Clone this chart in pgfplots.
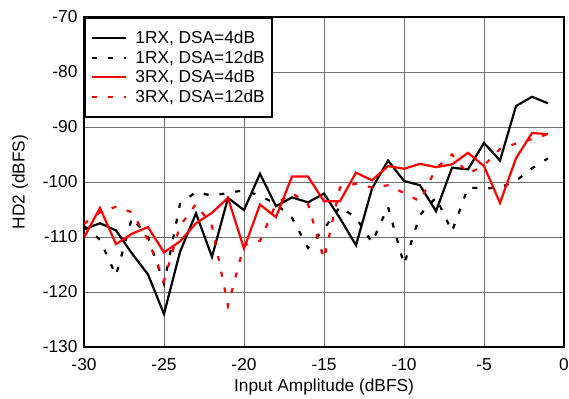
\documentclass[border=0pt]{standalone}
\usepackage{pgfplots}
\pgfplotsset{compat=1.18}
\usepackage{fontspec}
\setmainfont{Liberation Sans}
\usetikzlibrary{calc}

% HD2 vs input amplitude, one row per 1 dB step
\pgfplotstableread{
x    rxa     rxb     rxc     rxd
-30  -108.6  -108.0  -110.1  -107.6
-29  -107.5  -110.5  -104.7  -105.5
-28  -108.8  -117.0  -111.3  -104.5
-27  -113.0  -106.5  -109.4  -105.5
-26  -116.8  -110.0  -108.2  -110.5
-25  -124.0  -118.5  -112.8  -118.0
-24  -112.7  -104.0  -110.8  -108.0
-23  -105.7  -101.8  -107.5  -104.0
-22  -113.6  -102.5  -105.6  -108.0
-21  -102.9  -102.0  -102.9  -122.5
-20  -105.1  -101.5  -112.1  -111.5
-19  -98.5   -102.5  -104.1  -110.7
-18  -104.4  -104.0  -106.4  -104.0
-17  -102.8  -106.5  -99.0   -102.0
-16  -103.7  -112.0  -99.0   -104.0
-15  -102.1  -108.5  -103.5  -114.0
-14  -106.6  -104.5  -103.5  -101.0
-13  -111.5  -106.5  -98.3   -100.3
-12  -101.2  -111.0  -99.7   -101.0
-11  -96.1   -104.5  -97.1   -100.6
-10  -99.8   -115.0  -97.6   -102.0
-9   -100.6  -106.0  -96.7   -103.5
-8   -105.3  -102.8  -97.3   -97.5
-7   -97.4   -109.0  -96.8   -95.0
-6   -97.7   -101.0  -94.7   -98.5
-5   -92.9   -101.2  -97.1   -97.0
-4   -96.1   -101.0  -103.8  -94.0
-3   -86.2   -99.8   -95.7   -93.0
-2   -84.5   -97.5   -91.1   -92.2
-1   -85.7   -95.7   -91.3   -91.3
}\hdtwo

\begin{document}
\begin{tikzpicture}
\begin{axis}[
    scale only axis,
    width=480pt, height=330pt,
    xmin=-30, xmax=0, ymin=-130, ymax=-70,
    xtick={-30,-25,...,0},
    ytick={-130,-120,...,-70},
    major tick length=0pt,
    grid=major,
    major grid style={draw=black!55, line width=0.8pt},
    axis line style={line width=2.4pt},
    font=\fontsize{17.3}{19}\selectfont,
    /pgf/number format/assume math mode=true,
    xticklabel style={yshift=-8pt},
    yticklabel style={xshift=-3pt},
    xlabel={Input Amplitude (dBFS)},
    ylabel={HD2 (dBFS)},
    xlabel style={at={(axis description cs:0.5,-0.121)}, anchor=center},
    ylabel style={at={(axis description cs:-0.133,0.5)}, anchor=center},
    legend cell align=left,
    legend style={at={(0,1)}, anchor=north west, draw=black, line width=2.4pt,
        fill=white, inner xsep=6pt, inner ysep=12pt, row sep=3.5pt, column sep=7pt,
        nodes={inner sep=1pt},
        font=\fontsize{17.3}{19}\selectfont},
    legend image code/.code={\draw[#1] (0pt,0pt) -- (34pt,0pt);},
]
\addplot[black, line width=2.2pt] table[x=x, y=rxa] {\hdtwo};
\addlegendentry{1RX, DSA=4dB}
\addplot[black, line width=2.2pt, dash pattern=on 5pt off 11pt] table[x=x, y=rxb] {\hdtwo};
\addlegendentry{1RX, DSA=12dB}
\addplot[red, line width=2.2pt] table[x=x, y=rxc] {\hdtwo};
\addlegendentry{3RX, DSA=4dB}
\addplot[red, line width=2.2pt, dash pattern=on 5pt off 11pt] table[x=x, y=rxd] {\hdtwo};
\addlegendentry{3RX, DSA=12dB}
\end{axis}
\pgfresetboundingbox
\path[use as bounding box] ($(current axis.south west)+(-84pt,-52pt)$) rectangle ($(current axis.north east)+(5pt,17pt)$);
\end{tikzpicture}
\end{document}
